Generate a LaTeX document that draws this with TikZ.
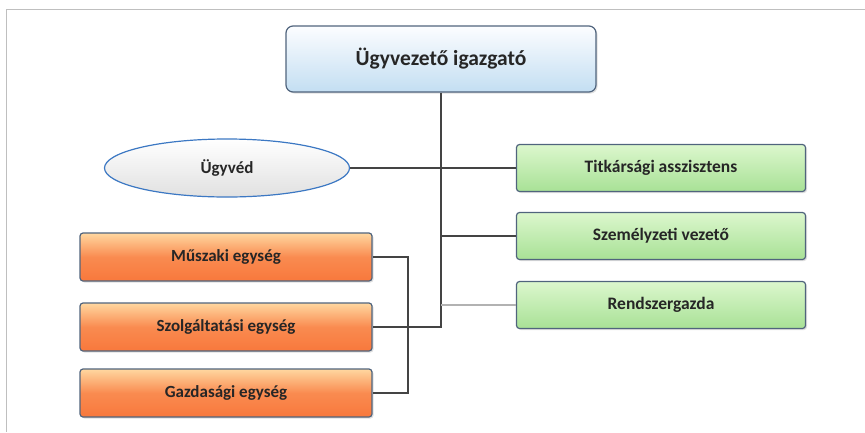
\documentclass[tikz,border=0pt]{standalone}
\usepackage{fontspec}
\setmainfont{Carlito}
\usetikzlibrary{positioning,shapes.geometric,shadows}
\definecolor{edgeclr}{RGB}{68,68,68}
\definecolor{rimclr}{RGB}{80,100,125}
\definecolor{ceotop}{RGB}{252,253,255}
\definecolor{ceobot}{RGB}{195,222,242}
\definecolor{grntop}{RGB}{220,247,205}
\definecolor{grnbot}{RGB}{168,225,150}
\definecolor{orgtop}{RGB}{255,215,160}
\definecolor{orgbot}{RGB}{248,120,60}
\definecolor{ovalclr}{RGB}{60,120,195}
\tikzset{
  unit/.style={rectangle,draw=rimclr,line width=1.2pt,rounded corners=3pt,
               inner sep=1pt,text=black!85,
               drop shadow={shadow xshift=1.5pt,shadow yshift=-1.5pt,opacity=0.25}},
  ceo/.style={unit,rounded corners=7pt,top color=ceotop,bottom color=ceobot,
              minimum width=310pt,minimum height=66pt,
              font=\fontsize{21.5}{24}\selectfont\bfseries},
  staff/.style={unit,top color=grntop,bottom color=grnbot,
                minimum width=289pt,minimum height=47pt,
                font=\fontsize{17.5}{20}\selectfont\bfseries},
  dept/.style={unit,top color=orgtop,bottom color=orgbot,middle color=orgbot!80!orgtop,
               minimum width=292pt,minimum height=48pt,
               font=\fontsize{17}{20}\selectfont\bfseries},
  oval/.style={ellipse,draw=ovalclr,line width=1.2pt,top color=white,bottom color=black!12,
               minimum width=245pt,minimum height=58pt,inner sep=1pt,
               text=black!85,font=\fontsize{17}{20}\selectfont\bfseries},
  link/.style={draw=edgeclr,line width=2pt},
  faint/.style={draw=black!30,line width=1.2pt},
}

\begin{document}
\begin{tikzpicture}[x=1pt,y=-1pt]
\useasboundingbox (0,0) rectangle (865,432);
% page frame
\draw[black!25,line width=0.8pt] (865,9) -- (6,9) -- (6,432);

% Head
\node[ceo] (ceo) at (441,59) {Ügyvezető igazgató};

% Lawyer
\node[oval] (lawyer) at (227,168) {Ügyvéd};

% Staff (right column)
\node[staff] (titk) at (661,168) {Titkársági asszisztens};
\node[staff] (szem) at (661,236) {Személyzeti vezető};
\node[staff] (rend) at (661,305) {Rendszergazda};

% Units (left column)
\node[dept] (musz)  at (226,257) {Műszaki egység};
\node[dept] (szolg) at (226,327) {Szolgáltatási egység};
\node[dept] (gazd)  at (226,393) {Gazdasági egység};

% Edges
\draw[link] (ceo.south) -- (ceo.south |- szolg.east) -- (szolg.east);
\draw[link] (musz.east) -- ++(35,0) |- (gazd.east);
\draw[link] (lawyer.east) -- (titk.west);
\draw[link] (ceo.south |- szem.west) -- (szem.west);
\draw[faint] (ceo.south |- rend.west) -- (rend.west);

\end{tikzpicture}
\end{document}
